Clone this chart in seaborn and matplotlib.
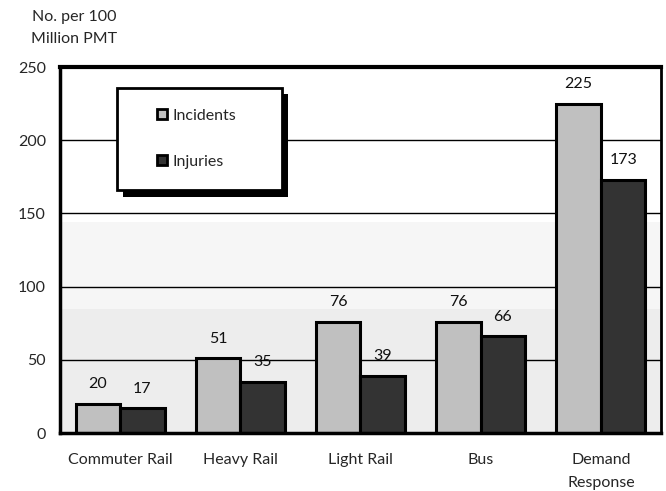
import matplotlib
matplotlib.use("Agg")
import matplotlib.pyplot as plt
from matplotlib.patches import Rectangle, Patch
import seaborn as sns
import pandas as pd

# Safety statistics by transit mode (per 100 million passenger miles travelled)
modes = ["Commuter Rail", "Heavy Rail", "Light Rail", "Bus", "Demand\nResponse"]
incidents = [20, 51, 76, 76, 225]
injuries = [17, 35, 39, 66, 173]
series_names = ["Incidents", "Injuries"]
series_colors = ["#c0c0c0", "#333333"]
y_ticks = [0, 50, 100, 150, 200, 250]

df = pd.DataFrame({
    "mode": modes * 2,
    "value": incidents + injuries,
    "series": [series_names[0]] * len(modes) + [series_names[1]] * len(modes),
})

sns.set_style("white")
plt.rcParams["font.family"] = ["Lato", "DejaVu Sans"]
FS = 11.5

fig = plt.figure(figsize=(6.66, 4.91), dpi=100)
ax = fig.add_axes([0.090, 0.118, 0.9025, 0.7455])

# shaded background bands
ax.axhspan(0, 85, color="#ededed", zorder=0, lw=0)
ax.axhspan(85, 144, color="#f6f6f6", zorder=0, lw=0)
for y in y_ticks[1:-1]:
    ax.axhline(y, color="black", lw=1.0, zorder=1)

sns.barplot(data=df, x="mode", y="value", hue="series", order=modes,
            hue_order=series_names, palette=series_colors, width=0.74,
            edgecolor="black", linewidth=2.2, saturation=1, ax=ax,
            legend=False, zorder=3)

# value labels above each bar
for container in ax.containers:
    for bar in container:
        h = bar.get_height()
        ax.annotate(f"{h:.0f}", (bar.get_x() + bar.get_width() / 2, h),
                    xytext=(0, 9), textcoords="offset points",
                    ha="center", va="bottom", fontsize=FS, color="#111111")

ax.set_xlim(-0.5, len(modes) - 0.5)
ax.set_ylim(0, 250)
ax.set_yticks(y_ticks)
ax.set_xlabel("")
ax.set_ylabel("")
ax.tick_params(axis="y", length=0, pad=10, labelsize=FS)
ax.tick_params(axis="x", which="major", length=0, pad=14, labelsize=FS)
for lbl in ax.get_xticklabels():
    lbl.set_linespacing(1.9)
ax.set_xticks([i - 0.5 for i in range(len(modes) + 1)], minor=True)
ax.tick_params(axis="x", which="minor", length=5, width=2, direction="out")
for side, lw in [("left", 2.5), ("bottom", 2.5), ("top", 3), ("right", 2)]:
    ax.spines[side].set_visible(True)
    ax.spines[side].set_linewidth(lw)
    ax.spines[side].set_color("black")
    ax.spines[side].set_zorder(5)

# legend box with drop shadow
bx0, by0, bw, bh = 0.095, 0.664, 0.275, 0.279
ax.add_patch(Rectangle((bx0 + 0.010, by0 - 0.018), bw, bh, transform=ax.transAxes,
                       facecolor="black", edgecolor="none", zorder=6))
ax.add_patch(Rectangle((bx0, by0), bw, bh, transform=ax.transAxes,
                       facecolor="white", edgecolor="black", lw=2, zorder=7))
handles = [Patch(facecolor=c, edgecolor="black", lw=2) for c in series_colors]
leg = ax.legend(handles, series_names, loc="center", frameon=False,
                bbox_to_anchor=(bx0 + bw / 2 - 0.005, by0 + bh / 2), bbox_transform=ax.transAxes,
                handlelength=0.6, handleheight=0.6, handletextpad=0.35,
                labelspacing=2.0, fontsize=FS)
leg.set_zorder(8)

fig.text(0.111, 0.965, "No. per 100", ha="center", va="center", fontsize=FS)
fig.text(0.111, 0.921, "Million PMT", ha="center", va="center", fontsize=FS)

fig.savefig("out.png", dpi=100)
